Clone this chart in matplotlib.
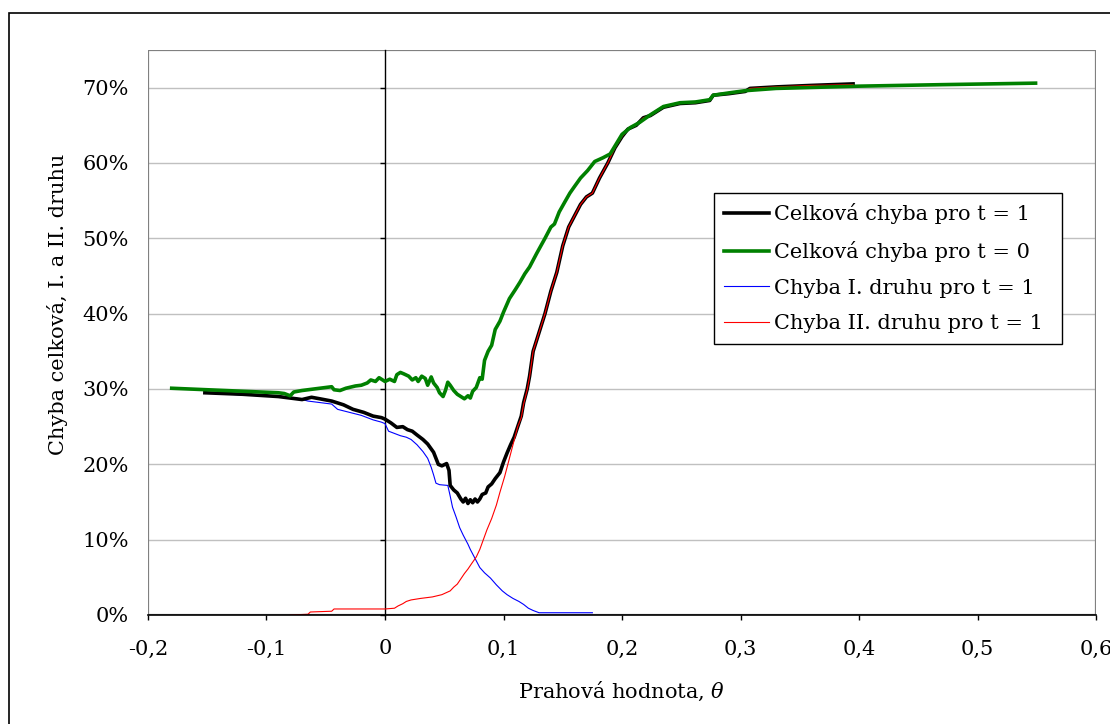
import matplotlib
matplotlib.use('Agg')
import matplotlib.pyplot as plt
from matplotlib.patches import Rectangle
from matplotlib.ticker import FuncFormatter, MultipleLocator

plt.rcParams['font.family'] = ['DejaVu Serif']
plt.rcParams['mathtext.fontset'] = 'dejavuserif'

# Celková chyba pro t = 1
black_x = [-0.152, -0.12, -0.09, -0.08, -0.07, -0.062, -0.055, -0.045, -0.035, -0.027,
           -0.018, -0.01, -0.003, 0.0, 0.005, 0.01, 0.015, 0.019, 0.023, 0.027,
           0.032, 0.036, 0.041, 0.045, 0.048, 0.052, 0.054, 0.055, 0.058, 0.061,
           0.064, 0.066, 0.068, 0.07, 0.072, 0.074, 0.076, 0.078, 0.08, 0.082,
           0.085, 0.087, 0.09, 0.093, 0.097, 0.1, 0.103, 0.106, 0.109, 0.112,
           0.115, 0.117, 0.12, 0.122, 0.125, 0.13, 0.135, 0.14, 0.145, 0.15,
           0.155, 0.16, 0.165, 0.17, 0.175, 0.181, 0.188, 0.194, 0.2, 0.205,
           0.212, 0.218, 0.224, 0.235, 0.249, 0.262, 0.274, 0.277, 0.29, 0.304,
           0.308, 0.33, 0.36, 0.395]
black_y = [29.5, 29.3, 29.0, 28.8, 28.6, 28.9, 28.7, 28.4, 27.9, 27.3,
           26.9, 26.4, 26.2, 26.0, 25.5, 24.9, 25.0, 24.6, 24.4, 23.9,
           23.3, 22.7, 21.6, 20.0, 19.8, 20.1, 19.2, 17.2, 16.6, 16.2,
           15.4, 15.0, 15.5, 14.8, 15.3, 14.9, 15.4, 15.0, 15.4, 16.0,
           16.2, 17.0, 17.4, 18.1, 18.9, 20.3, 21.5, 22.6, 23.6, 25.0,
           26.4, 28.2, 30.0, 31.7, 35.0, 37.5, 40.0, 43.0, 45.5, 49.0,
           51.5, 53.0, 54.5, 55.5, 56.0, 58.0, 60.0, 62.0, 63.5, 64.5,
           65.0, 66.0, 66.3, 67.4, 67.9, 68.0, 68.3, 69.0, 69.2, 69.5,
           69.9, 70.1, 70.3, 70.5]

# Celková chyba pro t = 0
green_x = [-0.18, -0.15, -0.12, -0.09, -0.085, -0.08, -0.077, -0.07, -0.06, -0.045,
           -0.043, -0.038, -0.033, -0.025, -0.02, -0.015, -0.012, -0.008, -0.005, -0.002,
           0.0, 0.004, 0.008, 0.01, 0.013, 0.016, 0.02, 0.023, 0.026, 0.028,
           0.031, 0.034, 0.036, 0.039, 0.041, 0.044, 0.046, 0.049, 0.051, 0.053,
           0.055, 0.058, 0.061, 0.064, 0.067, 0.07, 0.072, 0.074, 0.077, 0.08,
           0.082, 0.084, 0.087, 0.09, 0.093, 0.097, 0.1, 0.105, 0.11, 0.114,
           0.118, 0.122, 0.128, 0.135, 0.14, 0.143, 0.147, 0.152, 0.156, 0.16,
           0.165, 0.171, 0.177, 0.184, 0.19, 0.195, 0.2, 0.207, 0.215, 0.224,
           0.235, 0.249, 0.262, 0.274, 0.277, 0.29, 0.304, 0.33, 0.4, 0.47, 0.549]
green_y = [30.1, 29.9, 29.7, 29.5, 29.4, 29.1, 29.6, 29.8, 30.0, 30.3,
           29.9, 29.8, 30.1, 30.4, 30.5, 30.8, 31.2, 31.0, 31.5, 31.2,
           31.0, 31.3, 31.0, 31.9, 32.2, 32.0, 31.7, 31.2, 31.5, 31.0,
           31.7, 31.4, 30.5, 31.6, 30.8, 30.2, 29.5, 29.0, 29.8, 30.9,
           30.5, 29.8, 29.3, 29.0, 28.7, 29.1, 28.8, 29.7, 30.2, 31.5,
           31.3, 33.8, 35.0, 35.8, 37.9, 39.0, 40.2, 42.0, 43.2, 44.2,
           45.3, 46.2, 48.0, 50.0, 51.5, 51.9, 53.5, 54.9, 56.0, 56.9,
           58.0, 59.0, 60.2, 60.7, 61.2, 62.5, 63.8, 64.7, 65.4, 66.4,
           67.5, 68.0, 68.1, 68.4, 69.0, 69.3, 69.6, 69.9, 70.2, 70.4, 70.6]

# Chyba I. druhu pro t = 1
blue_x = [-0.152, -0.12, -0.09, -0.075, -0.065, -0.055, -0.045, -0.04, -0.035, -0.03,
          -0.02, -0.01, -0.003, 0.0, 0.003, 0.008, 0.013, 0.018, 0.022, 0.027,
          0.032, 0.036, 0.039, 0.041, 0.043, 0.046, 0.053, 0.055, 0.057, 0.06,
          0.063, 0.066, 0.07, 0.072, 0.076, 0.08, 0.084, 0.089, 0.094, 0.099,
          0.103, 0.108, 0.113, 0.117, 0.121, 0.125, 0.13, 0.15, 0.175]
blue_y = [29.5, 29.2, 29.0, 28.8, 28.4, 28.2, 28.0, 27.3, 27.1, 26.9,
          26.5, 25.9, 25.6, 25.4, 24.4, 24.1, 23.8, 23.6, 23.3, 22.6,
          21.7, 20.8, 19.6, 18.6, 17.5, 17.3, 17.2, 15.8, 14.3, 13.0,
          11.6, 10.6, 9.4, 8.7, 7.5, 6.3, 5.6, 4.9, 4.0, 3.2,
          2.7, 2.2, 1.8, 1.4, 0.9, 0.6, 0.3, 0.3, 0.3]

# Chyba II. druhu pro t = 1
red_x = [-0.08, -0.065, -0.063, -0.045, -0.043, 0.0, 0.008, 0.011, 0.015, 0.018,
         0.022, 0.03, 0.04, 0.048, 0.055, 0.058, 0.061, 0.064, 0.067, 0.07,
         0.073, 0.077, 0.08, 0.083, 0.086, 0.09, 0.094, 0.097, 0.101, 0.104,
         0.107, 0.11, 0.112, 0.115, 0.117, 0.12, 0.122, 0.125, 0.13, 0.135,
         0.14, 0.145, 0.15, 0.155, 0.16, 0.165, 0.17, 0.175, 0.181, 0.188,
         0.194, 0.2, 0.205, 0.212, 0.218, 0.224, 0.235, 0.249, 0.262, 0.274,
         0.277, 0.29, 0.304, 0.308, 0.33, 0.36, 0.395]
red_y = [0.0, 0.1, 0.4, 0.5, 0.8, 0.8, 0.9, 1.2, 1.5, 1.8,
         2.0, 2.2, 2.4, 2.7, 3.2, 3.7, 4.1, 4.8, 5.5, 6.1,
         6.8, 7.7, 8.7, 10.0, 11.3, 12.8, 14.6, 16.3, 18.4, 20.2,
         22.0, 23.8, 25.0, 26.2, 28.0, 29.9, 31.6, 35.0, 37.5, 40.0,
         43.0, 45.5, 49.0, 51.5, 53.0, 54.5, 55.5, 56.0, 58.0, 60.0,
         62.0, 63.5, 64.5, 65.0, 66.0, 66.3, 67.4, 67.9, 68.0, 68.3,
         69.0, 69.2, 69.5, 69.9, 70.1, 70.3, 70.4]

labels = ['Celková chyba pro t = 1', 'Celková chyba pro t = 0',
          'Chyba I. druhu pro t = 1', 'Chyba II. druhu pro t = 1']

fs = 15
fig = plt.figure(figsize=(11.1, 7.24), dpi=100)
ax = fig.add_axes([148 / 1110, 1 - 615 / 724, 948 / 1110, 565 / 724])

# vnější rámeček grafu
fig.patches.append(Rectangle((9 / 1110, -0.1), 1.2, 1.1 - 13 / 724, transform=fig.transFigure,
                             fill=False, ec='black', lw=1.2))

to_pct = lambda v: [a / 100 for a in v]
l1, = ax.plot(black_x, to_pct(black_y), color='black', lw=2.6, zorder=4)
l3, = ax.plot(blue_x, to_pct(blue_y), color='blue', lw=0.8, zorder=3)
l4, = ax.plot(red_x, to_pct(red_y), color='red', lw=0.8, zorder=5)
l2, = ax.plot(green_x, to_pct(green_y), color='green', lw=2.6, zorder=6)

ax.set_xlim(-0.2, 0.6)
ax.set_ylim(0, 0.75)
ax.xaxis.set_major_locator(MultipleLocator(0.1))
ax.yaxis.set_major_locator(MultipleLocator(0.1))
ax.xaxis.set_major_formatter(FuncFormatter(lambda v, p: ('%g' % round(v, 2)).replace('.', ',')))
ax.yaxis.set_major_formatter(FuncFormatter(lambda v, p: '%d%%' % round(v * 100) if v <= 0.7 + 1e-9 else ''))

ax.grid(axis='y', color='#c0c0c0', lw=1)
ax.set_axisbelow(True)

# okraj plochy grafu
ax.add_patch(Rectangle((0, 0), 1, 1, transform=ax.transAxes, fill=False, ec='#808080', lw=1.6, zorder=1))
for s in ['left', 'top']:
    ax.spines[s].set_visible(False)
ax.spines['bottom'].set_color('black')
ax.spines['bottom'].set_linewidth(1.2)
ax.spines['bottom'].set_zorder(7)
ax.spines['right'].set_position(('data', 0))
ax.spines['right'].set_color('black')
ax.spines['right'].set_linewidth(1.0)

ax.yaxis.set_ticks_position('both')
ax.tick_params(axis='y', left=False, right=True, labelleft=True, labelright=False,
               direction='in', length=3.6, width=1, pad=14, labelsize=fs)
ax.tick_params(axis='x', direction='out', length=3.6, width=1, pad=14, labelsize=fs)

ax.set_xlabel(r'Prahová hodnota, $\theta$', fontsize=fs)
ax.xaxis.set_label_coords(0.5, -0.115)
ax.xaxis.label.set_va('top')
ax.set_ylabel('Chyba celková, I. a II. druhu', fontsize=fs)
ax.yaxis.set_label_coords(-0.084, 0.55)

leg = ax.legend([l1, l2, l3, l4], labels, loc='upper left', mode='expand',
                bbox_to_anchor=(0.597, 0.747, 0.367, 0),
                borderaxespad=0, fontsize=fs, frameon=True, fancybox=False, framealpha=1,
                edgecolor='black', handlelength=2.15, handletextpad=0.25, labelspacing=0.8,
                borderpad=0.5)
leg.get_frame().set_linewidth(1.0)
leg.set_zorder(10)

fig.savefig('out.png', dpi=100)
